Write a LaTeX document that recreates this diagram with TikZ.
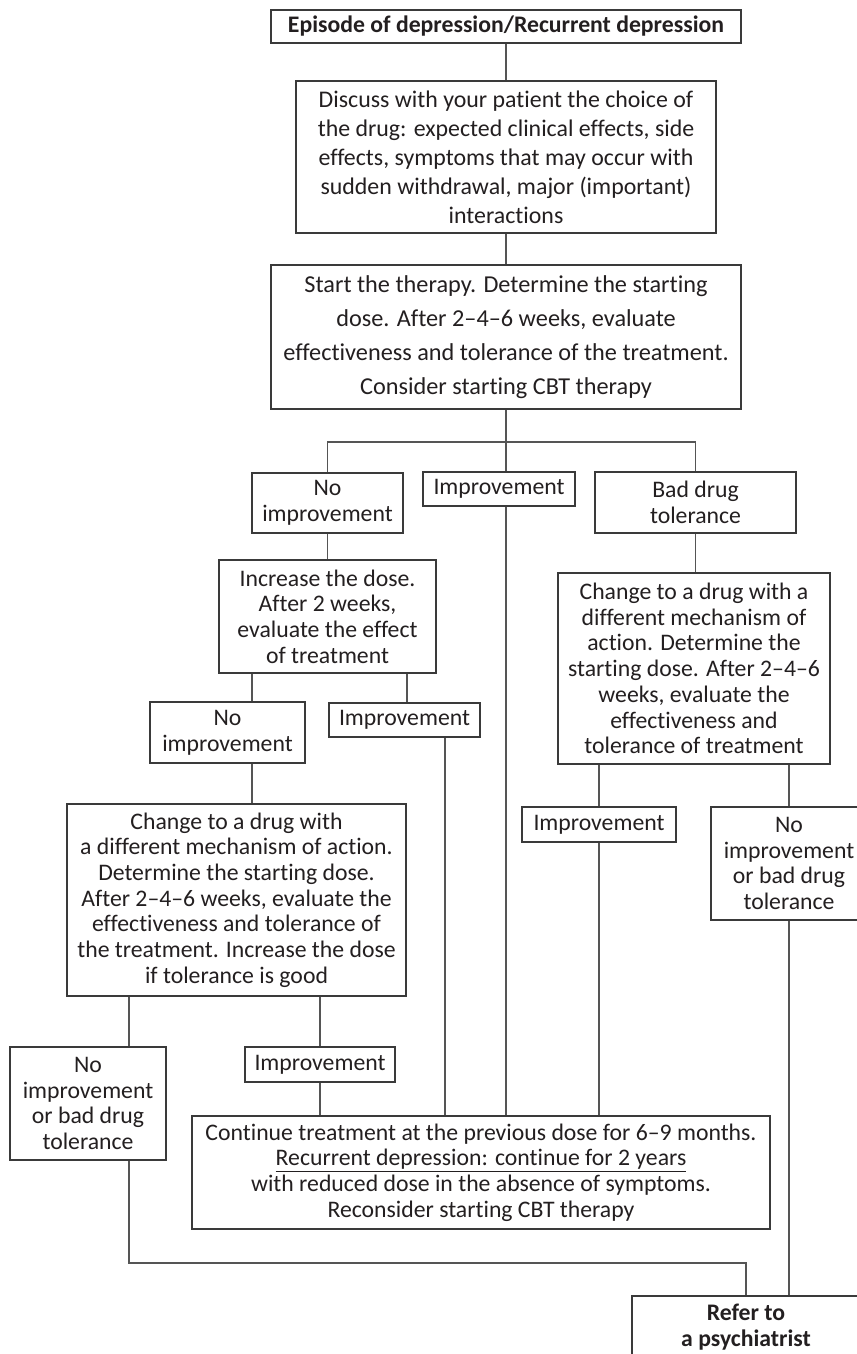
\documentclass[tikz,border=0pt]{standalone}
\usepackage{fontspec}
\setmainfont{Carlito}[Ligatures={TeX,NoCommon}]
\begin{document}
\begin{tikzpicture}[x=0.75pt,y=-0.75pt,
  box/.style={draw=boxc, line width=0.8pt, inner sep=0pt, align=center, text=txt,
    font=\fontsize{17.8pt}{19.3pt}\selectfont},
  discussbox/.style={box, font=\fontsize{17.9pt}{21.75pt}\selectfont},
  startbox/.style={box, font=\fontsize{18.2pt}{25.5pt}\selectfont},
  boldbox/.style={box, font=\fontsize{17.8pt}{19.3pt}\selectfont\bfseries},
  sz/.style 2 args={minimum width=#1*0.75pt, minimum height=#2*0.75pt},
  conn/.style={draw=linec, line width=0.8pt}]
\definecolor{boxc}{HTML}{3A3A3A}
\definecolor{linec}{HTML}{555555}
\definecolor{txt}{HTML}{231F20}
\clip (0,0) rectangle (857,1354);
\fill[white] (0,0) rectangle (857,1354);

\node[boldbox, sz={470}{33}] (title) at (506,26.5) {Episode of depression/Recurrent depression};
\node[discussbox, sz={420}{152}] (discuss) at (506,157) {Discuss with your patient the choice of\\the drug: expected clinical effects, side\\effects, symptoms that may occur with\\sudden withdrawal, major (important)\\interactions};
\node[startbox, sz={470}{144}] (start) at (506,337) {Start the therapy. Determine the starting\\dose. After 2–4–6 weeks, evaluate\\effectiveness and tolerance of the treatment.\\Consider starting CBT therapy};

\node[box, sz={151}{60}] (ni1) at (327.5,503) {No\\improvement};
\node[box, sz={152}{34}] (imp1) at (499,489) {Improvement};
\node[box, sz={201}{61}] (bad) at (695.5,502.5) {Bad drug\\tolerance};

\node[box, sz={217}{113}] (inc) at (327.5,616.5) {Increase the dose.\\After 2 weeks,\\evaluate the effect\\of treatment};
\node[box, sz={272}{191}] (chR) at (694,668.5) {Change to a drug with a\\different mechanism of\\action. Determine the\\starting dose. After 2–4–6\\weeks, evaluate the\\effectiveness and\\tolerance of treatment};

\node[box, sz={155}{61}] (ni2) at (227.5,732.5) {No\\improvement};
\node[box, sz={151}{34}] (imp2) at (404.5,720) {Improvement};

\node[box, sz={339}{192}] (chL) at (236.5,900) {Change to a drug with\\a different mechanism of action.\\Determine the starting dose.\\After 2–4–6 weeks, evaluate the\\effectiveness and tolerance of\\the treatment. Increase the dose\\if tolerance is good};
\node[box, sz={154}{35}] (imp3) at (599,824.5) {Improvement};
\node[box, sz={156}{113}] (ni3) at (789,863.5) {No\\improvement\\or bad drug\\tolerance};

\node[box, sz={156}{113}] (ni4) at (88,1103.5) {No\\improvement\\or bad drug\\tolerance};
\node[box, sz={150}{35}] (imp4) at (320,1064.5) {Improvement};

\node[box, sz={578}{113}] (cont) at (481,1172.5) {Continue treatment at the previous dose for 6–9 months.\\\underline{Recurrent depression: continue for 2 years}\\with reduced dose in the absence of symptoms.\\Reconsider starting CBT therapy};

\node[boldbox, sz={228}{62}] (refer) at (746,1327) {Refer to\\a psychiatrist};

% connectors
\coordinate (br) at (506,442);
\coordinate (bl) at (129,1263);
\draw[conn] (title.south) -- (discuss.north);
\draw[conn] (discuss.south) -- (start.north);
\draw[conn] (start.south) -- (br);
\draw[conn] (ni1.north) |- (br) -| (bad.north);
\draw[conn] (br) -- (imp1.north -| br);
\draw[conn] (ni1.south) -- (inc.north);
\draw[conn] (bad.south) -- (bad.south |- chR.north);
\draw[conn] (inc.south -| 252,0) -- (ni2.north -| 252,0);
\draw[conn] (inc.south -| 407,0) -- (imp2.north -| 407,0);
\draw[conn] (ni2.south -| 252,0) -- (chL.north -| 252,0);
\draw[conn] (chR.south -| 599,0) -- (imp3.north -| 599,0);
\draw[conn] (chR.south -| ni3.north) -- (ni3.north);
\draw[conn] (chL.south -| 129,0) -- (ni4.north -| 129,0);
\draw[conn] (chL.south -| 320,0) -- (imp4.north -| 320,0);
\draw[conn] (imp4.south) -- (imp4.south |- cont.north);
\draw[conn] (imp2.south -| 445,0) -- (cont.north -| 445,0);
\draw[conn] (imp1.south -| br) -- (cont.north -| br);
\draw[conn] (imp3.south) -- (imp3.south |- cont.north);
\draw[conn] (ni4.south -| bl) -- (bl) -| (refer.north);
\draw[conn] (ni3.south) -- (ni3.south |- refer.north);
\end{tikzpicture}
\end{document}
